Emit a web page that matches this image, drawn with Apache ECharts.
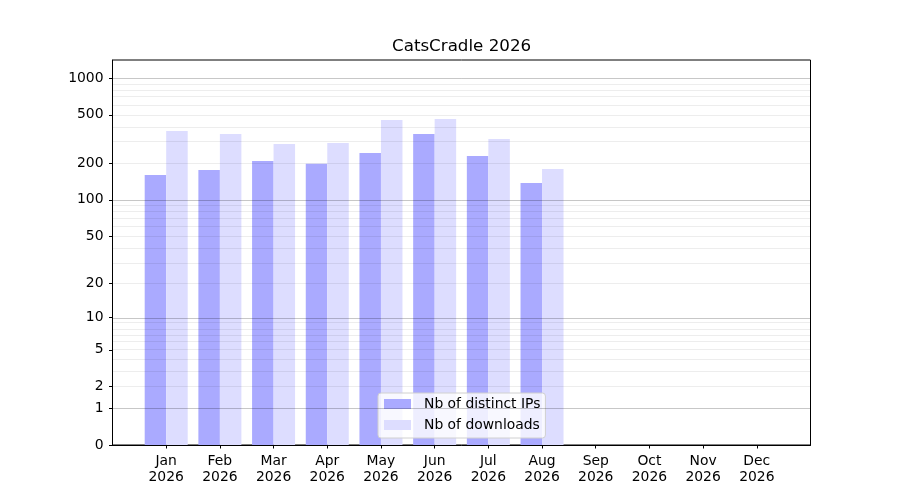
<!DOCTYPE html>
<html>
<head>
<meta charset="utf-8">
<script src="https://cdn.jsdelivr.net/npm/echarts@6/dist/echarts.min.js"></script>
<style>html,body{margin:0;padding:0;background:#fff}#c{width:900px;height:500px}</style>
</head>
<body>
<div id="c"></div>
<script>
const months = ['Jan','Feb','Mar','Apr','May','Jun','Jul','Aug','Sep','Oct','Nov','Dec'];
const year = '2026';
const distinctIPs = [160, 176, 209, 198, 243, 348, 230, 138];
const downloads = [368, 348, 288, 294, 453, 462, 317, 180];
const yTicks = [0, 1, 2, 5, 10, 20, 50, 100, 200, 500, 1000];
const majorGrid = [1, 10, 100, 1000];
const minorGrid = [2,3,4,5,6,7,8,9,20,30,40,50,60,70,80,90,200,300,400,500,600,700,800,900];

const tf = v => Math.log10(v + 1);
const font = 'DejaVu Sans';
const fs = 13.9;

const chart = echarts.init(document.getElementById('c'), null, {renderer: 'canvas'});
const gridLines = majorGrid.map(v => ({yAxis: tf(v), lineStyle: {color: 'rgba(0,0,0,0.22)', width: 1, type: 'solid'}}))
  .concat(minorGrid.map(v => ({yAxis: tf(v), lineStyle: {color: 'rgba(0,0,0,0.07)', width: 1, type: 'solid'}})));

chart.setOption({
  animation: false,
  backgroundColor: '#fff',
  title: {
    text: 'CatsCradle 2026',
    left: 387, top: 33,
    textStyle: {fontFamily: font, fontSize: 16.7, fontWeight: 'normal', color: '#000'}
  },
  grid: {left: 112.5, right: 89.5, top: 60, bottom: 55, show: true, borderColor: '#000', borderWidth: 1, backgroundColor: 'transparent'},
  legend: {
    orient: 'vertical', left: 378, top: 393,
    data: ['Nb of distinct IPs', 'Nb of downloads'],
    icon: 'rect', itemWidth: 27, itemHeight: 10, itemGap: 7,
    padding: [4, 5, 6, 6],
    backgroundColor: 'rgba(255,255,255,0.8)', borderColor: '#d0d0d0', borderWidth: 1, borderRadius: 3,
    textStyle: {fontFamily: font, fontSize: fs, color: '#000', lineHeight: 14, padding: [0, 0, 0, 8]}
  },
  xAxis: {
    type: 'value', min: -1, max: 12,
    axisLine: {show: true, onZero: false, lineStyle: {color: '#000', width: 1}},
    axisTick: {show: true, length: 3.5, lineStyle: {color: '#000'}, customValues: months.map((m, i) => i)},
    axisLabel: {
      customValues: months.map((m, i) => i),
      formatter: v => months[v] + '\n' + year,
      fontFamily: font, fontSize: fs, color: '#000', lineHeight: 16, margin: 8
    },
    splitLine: {show: false}
  },
  yAxis: {
    type: 'value', min: 0, max: 3.148,
    axisLine: {show: true, onZero: false, lineStyle: {color: '#000', width: 1}},
    axisTick: {show: true, length: 3.5, lineStyle: {color: '#000'}, customValues: yTicks.map(tf)},
    axisLabel: {
      customValues: yTicks.map(tf),
      formatter: v => String(Math.round(Math.pow(10, v) - 1)),
      fontFamily: font, fontSize: fs, color: '#000', margin: 9
    },
    splitLine: {show: false}
  },
  series: [
    {
      name: 'Nb of distinct IPs', type: 'bar', barWidth: 21.5, barGap: '0%',
      itemStyle: {color: '#aaaaff'},
      data: distinctIPs.map((v, i) => [i, tf(v)])
    },
    {
      name: 'Nb of downloads', type: 'bar', barWidth: 21.5, barGap: '0%',
      itemStyle: {color: '#ddddff'},
      data: downloads.map((v, i) => [i, tf(v)]),
      markLine: {silent: true, symbol: ['none', 'none'], label: {show: false}, data: gridLines, animation: false}
    }
  ]
});
</script>
</body>
</html>
